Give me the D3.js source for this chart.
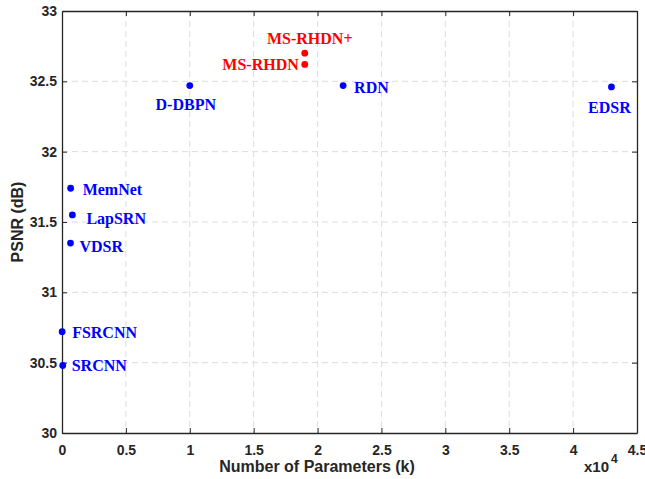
<!DOCTYPE html>
<html>
<head>
	<meta charset="utf-8">
	<title>PSNR vs Parameters</title>
	<script src="https://d3js.org/d3.v7.min.js"></script>
	<style>
		body { margin: 0; background: #fff; }
	</style>
</head>
<body>
	<div id="chart"></div>
	<script>
		// Data
		var models = ["SRCNN", "FSRCNN", "VDSR", "LapSRN", "MemNet", "D-DBPN", "RDN", "EDSR", "MS-RHDN", "MS-RHDN+"];
		var params = [57, 12, 665, 813, 677, 10000, 22000, 43000, 19000, 19000];
		var psnr = [30.48, 30.72, 31.35, 31.55, 31.74, 32.47, 32.47, 32.46, 32.62, 32.70];
		var ours = [false, false, false, false, false, false, false, false, true, true];
		var xTicks = [0, 5000, 10000, 15000, 20000, 25000, 30000, 35000, 40000, 45000];
		var yTicks = [30, 30.5, 31, 31.5, 32, 32.5, 33];

		// label placement: dx, dy from the dot, text-anchor
		var labelPos = {
			"SRCNN": [9, 6, "start"],
			"FSRCNN": [10, 6, "start"],
			"VDSR": [9, 9, "start"],
			"LapSRN": [14, 9, "start"],
			"MemNet": [12, 7, "start"],
			"D-DBPN": [-4, 24, "middle"],
			"RDN": [11, 7, "start"],
			"EDSR": [-2, 26, "middle"],
			"MS-RHDN": [-6, 6, "end"],
			"MS-RHDN+": [5, -9, "middle"]
		};

		var W = 645, H = 479;
		var mLeft = 62, mRight = 637, mTop = 11, mBottom = 433;

		var x = d3.scaleLinear().domain([0, 45000]).range([mLeft, mRight]);
		var y = d3.scaleLinear().domain([30, 33]).range([mBottom, mTop]);

		var svg = d3.select("#chart").append("svg")
			.attr("width", W).attr("height", H);

		// grid
		svg.append("g").selectAll("line")
			.data(xTicks.slice(1, -1))
			.join("line")
			.attr("x1", d => x(d)).attr("x2", d => x(d))
			.attr("y1", mTop).attr("y2", mBottom)
			.attr("stroke", "#dcdcdc").attr("stroke-dasharray", "6,4");
		svg.append("g").selectAll("line")
			.data(yTicks.slice(1, -1))
			.join("line")
			.attr("y1", d => y(d)).attr("y2", d => y(d))
			.attr("x1", mLeft).attr("x2", mRight)
			.attr("stroke", "#dcdcdc").attr("stroke-dasharray", "6,4");

		// axes
		svg.append("g")
			.attr("transform", "translate(0," + mBottom + ")")
			.call(d3.axisBottom(x).tickValues(xTicks).tickSizeInner(-5).tickSizeOuter(0).tickPadding(12)
				.tickFormat(d => d3.format("~g")(d / 10000)));
		svg.append("g")
			.attr("transform", "translate(" + mLeft + ",0)")
			.call(d3.axisLeft(y).tickValues(yTicks).tickSizeInner(-5).tickSizeOuter(0).tickPadding(5)
				.tickFormat(d3.format("~g")));
		svg.append("g")
			.attr("transform", "translate(0," + mTop + ")")
			.call(d3.axisTop(x).tickValues(xTicks).tickSizeInner(-5).tickSizeOuter(0).tickFormat(""));
		svg.append("g")
			.attr("transform", "translate(" + mRight + ",0)")
			.call(d3.axisRight(y).tickValues(yTicks).tickSizeInner(-5).tickSizeOuter(0).tickFormat(""));

		svg.selectAll(".domain").attr("stroke", "#262626").attr("stroke-width", 1.3);
		svg.selectAll(".tick line").attr("stroke", "#262626");
		svg.selectAll(".tick text")
			.attr("fill", "#262626")
			.style("font-family", "'Liberation Sans', Arial, sans-serif")
			.style("font-size", "14px")
			.style("font-weight", "bold");

		// axis titles
		svg.append("text")
			.attr("x", 317).attr("y", 472)
			.attr("text-anchor", "middle")
			.attr("fill", "#262626")
			.style("font-family", "'Liberation Sans', Arial, sans-serif")
			.style("font-size", "16px").style("font-weight", "bold")
			.text("Number of Parameters (k)");
		svg.append("text")
			.attr("transform", "translate(23," + ((mTop + mBottom) / 2) + ") rotate(-90)")
			.attr("text-anchor", "middle")
			.attr("fill", "#262626")
			.style("font-family", "'Liberation Sans', Arial, sans-serif")
			.style("font-size", "16px").style("font-weight", "bold")
			.text("PSNR (dB)");
		var expo = svg.append("text")
			.attr("x", 584).attr("y", 472)
			.attr("fill", "#262626")
			.style("font-family", "'Liberation Sans', Arial, sans-serif")
			.style("font-size", "15px").style("font-weight", "bold");
		expo.append("tspan").text("x10");
		expo.append("tspan").attr("dx", 2).attr("dy", -9).style("font-size", "12px").text("4");

		// points
		var pts = models.map((m, i) => ({ name: m, p: params[i], v: psnr[i], ours: ours[i] }));
		svg.append("g").selectAll("circle")
			.data(pts)
			.join("circle")
			.attr("cx", d => x(d.p))
			.attr("cy", d => y(d.v))
			.attr("r", 3.4)
			.attr("fill", d => d.ours ? "#ff0000" : "#0000ff");

		svg.append("g").selectAll("text")
			.data(pts)
			.join("text")
			.attr("x", d => x(d.p) + labelPos[d.name][0])
			.attr("y", d => y(d.v) + labelPos[d.name][1])
			.attr("text-anchor", d => labelPos[d.name][2])
			.attr("fill", d => d.ours ? "#ff0000" : "#0000ff")
			.style("font-family", "'Liberation Serif', 'Times New Roman', serif")
			.style("font-size", "16px").style("font-weight", "bold")
			.text(d => d.name);
	</script>
</body>
</html>
